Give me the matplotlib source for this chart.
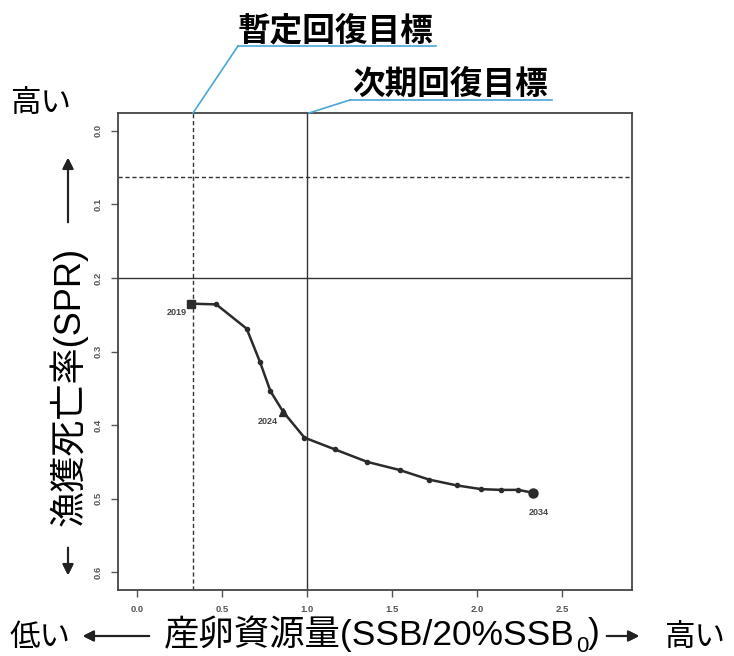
import matplotlib
matplotlib.use("Agg")
import matplotlib.pyplot as plt
from matplotlib.lines import Line2D

plt.rcParams["font.family"] = ["Noto Sans CJK JP", "DejaVu Sans"]

# SSB/20%SSB0 and fishing pressure, 2019-2034
years = list(range(2019, 2035))
ssb_ratio = [0.315, 0.466, 0.645, 0.723, 0.785, 0.860, 0.985, 1.164,
             1.355, 1.545, 1.718, 1.883, 2.025, 2.144, 2.243, 2.332]
spr = [0.235, 0.236, 0.269, 0.314, 0.354, 0.382, 0.417, 0.433,
       0.450, 0.461, 0.474, 0.482, 0.487, 0.488, 0.488, 0.492]
labelled_years = [2019, 2024, 2034]

interim_target_ssb = 0.33
next_target_ssb = 1.0
interim_target_spr = 0.063
next_target_spr = 0.2

x_ticks = [0.0, 0.5, 1.0, 1.5, 2.0, 2.5]
y_ticks = [0.0, 0.1, 0.2, 0.3, 0.4, 0.5, 0.6]

W, H = 734, 656
fig = plt.figure(figsize=(W / 100, H / 100), dpi=100)
fig.patch.set_facecolor("white")


def fx(px):
    return px / W


def fy(py):
    return 1 - py / H


ax = fig.add_axes([fx(118), fy(590), (632 - 118) / W, (590 - 113) / H])
ax.set_xlim(-0.112, 2.912)
ax.set_ylim(0.624, -0.024)

line_col = "#333333"
ax.axvline(interim_target_ssb, color=line_col, lw=1.0, ls=(0, (3, 2)))
ax.axhline(interim_target_spr, color=line_col, lw=1.0, ls=(0, (3, 2)))
ax.axvline(next_target_ssb, color=line_col, lw=1.0)
ax.axhline(next_target_spr, color=line_col, lw=1.0)

ax.plot(ssb_ratio, spr, color="#2b2b2b", lw=1.8, marker="o", ms=3.0, zorder=3)
i0, i1, i2 = (years.index(y) for y in labelled_years)
ax.plot(ssb_ratio[i0], spr[i0], marker="s", ms=5.5, color="#2b2b2b", zorder=4)
ax.plot(ssb_ratio[i1], spr[i1], marker="^", ms=6, color="#2b2b2b", zorder=4)
ax.plot(ssb_ratio[i2], spr[i2], marker="o", ms=6.5, color="#2b2b2b", zorder=4)

offsets = {2019: (-14, -9), 2024: (-15, -10), 2034: (5, -20)}
for yr in labelled_years:
    i = years.index(yr)
    ax.annotate(str(yr), (ssb_ratio[i], spr[i]), xytext=offsets[yr],
                textcoords="offset pixels", ha="center", va="center",
                fontsize=6.5, fontweight="bold", color="#444444",
                family="Liberation Sans")

ax.set_xticks(x_ticks)
ax.set_xticklabels([f"{v:.1f}" for v in x_ticks])
ax.set_yticks(y_ticks)
ax.set_yticklabels([f"{v:.1f}" for v in y_ticks], rotation=90, va="center")
ax.tick_params(direction="out", length=5, width=1.0, color="#555555",
               labelsize=6.8, labelcolor="#555555", pad=6)
for lab in ax.get_xticklabels() + ax.get_yticklabels():
    lab.set_family("Liberation Sans")
    lab.set_fontweight("bold")
for sp in ax.spines.values():
    sp.set_linewidth(1.3)
    sp.set_color("#444444")

cap_font = ["Liberation Sans", "Noto Sans CJK JP"]

# target callouts with blue leader lines
blue = "#4aa6d8"
fig.text(fx(238), fy(31), "暫定回復目標", fontsize=23.5, fontweight="bold",
         ha="left", va="center")
fig.add_artist(Line2D([fx(238), fx(436)], [fy(46), fy(46)], color=blue, lw=1.2))
fig.add_artist(Line2D([fx(238), fx(193)], [fy(46), fy(113)], color=blue, lw=1.2))
fig.text(fx(352), fy(84), "次期回復目標", fontsize=23.5, fontweight="bold",
         ha="left", va="center")
fig.add_artist(Line2D([fx(350), fx(552)], [fy(100), fy(100)], color=blue, lw=1.2))
fig.add_artist(Line2D([fx(350), fx(309)], [fy(100), fy(113)], color=blue, lw=1.2))

# y axis caption with arrows
fig.text(fx(10), fy(103), "高い", fontsize=22, ha="left", va="center")
fig.text(fx(68), fy(386), "漁獲死亡率(SPR)", fontsize=26, rotation=90,
         ha="center", va="center", family=cap_font)
arrow = dict(arrowstyle="-|>", color="#222222", lw=1.5, mutation_scale=16)
fig.add_artist(plt.annotate("", xy=(fx(68), fy(155)), xytext=(fx(68), fy(225)),
                            xycoords="figure fraction", arrowprops=arrow))
fig.add_artist(plt.annotate("", xy=(fx(68), fy(578)), xytext=(fx(68), fy(545)),
                            xycoords="figure fraction", arrowprops=arrow))

# x axis caption: main text, subscript 0 and closing paren laid out by width
renderer = fig.canvas.get_renderer()
fig.text(fx(10), fy(638), "低い", fontsize=22, ha="left", va="center")
fig.add_artist(plt.annotate("", xy=(fx(80), fy(636)), xytext=(fx(152), fy(636)),
                            xycoords="figure fraction", arrowprops=arrow))
xcap = fig.text(fx(164), fy(634), "産卵資源量(SSB/20%SSB", fontsize=25.5,
                ha="left", va="center", family=cap_font)
x_end = xcap.get_window_extent(renderer).x1
sub = fig.text(x_end / W + fx(1), fy(646), "0", fontsize=16,
               ha="left", va="center", family=cap_font)
x_end = sub.get_window_extent(renderer).x1
paren = fig.text(x_end / W, fy(634), ")", fontsize=25.5,
                 ha="left", va="center", family=cap_font)
x_end = paren.get_window_extent(renderer).x1
fig.add_artist(plt.annotate("", xy=(x_end / W + fx(42), fy(636)),
                            xytext=(x_end / W + fx(4), fy(636)),
                            xycoords="figure fraction", arrowprops=arrow))
fig.text(fx(664), fy(638), "高い", fontsize=22, ha="left", va="center")

fig.savefig("out.png", dpi=100)
